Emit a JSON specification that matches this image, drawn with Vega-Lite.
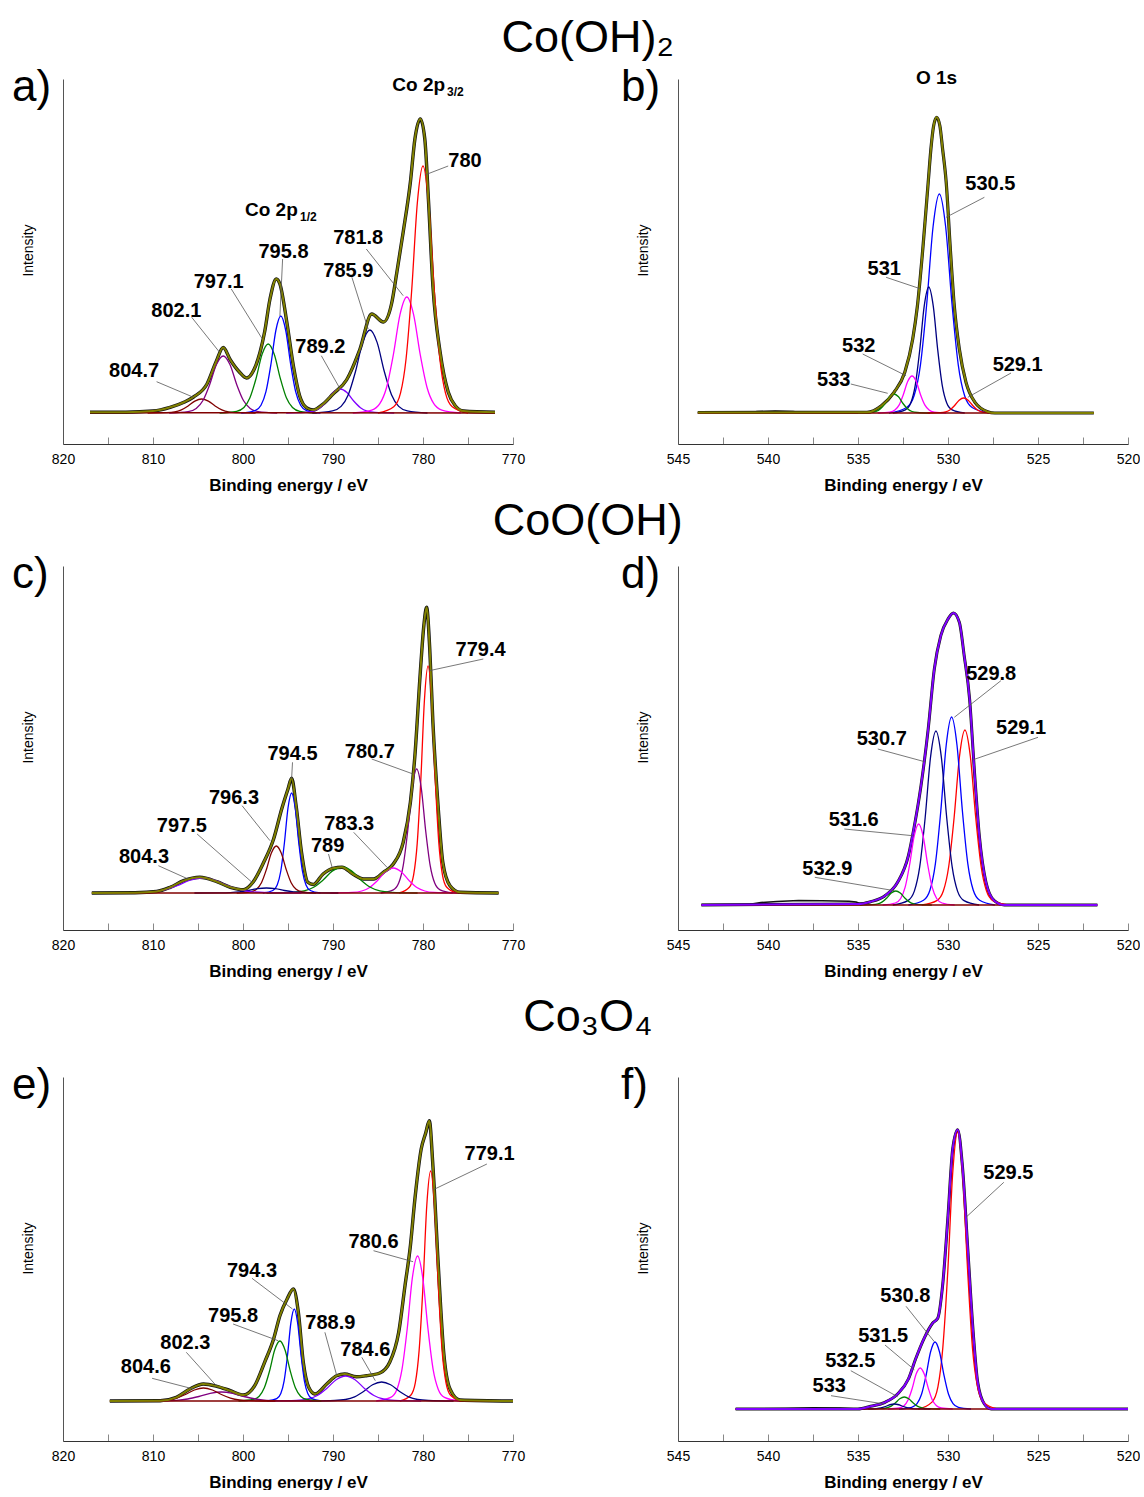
{
"$schema": "https://vega.github.io/schema/vega-lite/v6.json",
"background": "white",
"padding": {"left": 11, "top": 15, "right": 0, "bottom": 0},
"config": {
 "view": {"stroke": null},
 "font": "Liberation Sans",
 "title": {"font": "Liberation Sans", "fontWeight": "normal", "color": "black"},
 "text": {"font": "Liberation Sans", "color": "black"},
 "axisX": {"grid": false, "domainColor": "#333", "tickColor": "#888", "tickSize": -7, "labelFont": "Liberation Sans", "labelFontSize": 14, "labelColor": "black", "labelPadding": 15, "labelExpr": "datum.value % 10 === 0 ? datum.label : ''", "labelFlush": false, "labelOverlap": false, "titleFont": "Liberation Sans", "titleFontSize": 17, "titleFontWeight": "bold", "titleColor": "black", "titlePadding": 11},
 "axisY": {"grid": false, "labels": false, "ticks": false, "domainColor": "#555", "titleFont": "Liberation Sans", "titleFontSize": 14, "titleFontWeight": "normal", "titleColor": "black", "titlePadding": 28, "titleY": 171}
},
"datasets": {
 "a": [
  {"k":"env","x":817,"y":31.7},{"k":"env","x":813,"y":31.8},{"k":"env","x":810,"y":33},{"k":"env","x":808.1,"y":36.7},{"k":"env","x":806.5,"y":42},{"k":"env","x":805.5,"y":47},{"k":"env","x":804,"y":60},{"k":"env","x":803,"y":82},{"k":"env","x":802.2,"y":96.5},{"k":"env","x":801.4,"y":84},{"k":"env","x":800.4,"y":72},{"k":"env","x":799.6,"y":66},{"k":"env","x":798.8,"y":74},{"k":"env","x":798.1,"y":92},{"k":"env","x":797.6,"y":112},{"k":"env","x":797,"y":145},{"k":"env","x":796.3,"y":165},{"k":"env","x":795.9,"y":160},{"k":"env","x":795.1,"y":120},{"k":"env","x":794.4,"y":78},{"k":"env","x":793.7,"y":48},{"k":"env","x":792.9,"y":36},{"k":"env","x":792.2,"y":34},{"k":"env","x":791.1,"y":40},{"k":"env","x":790,"y":50},{"k":"env","x":788.5,"y":64},{"k":"env","x":787,"y":95},{"k":"env","x":785.7,"y":130},{"k":"env","x":784.4,"y":122},{"k":"env","x":783.5,"y":140},{"k":"env","x":782.9,"y":172},{"k":"env","x":782.2,"y":212},{"k":"env","x":781.4,"y":262},{"k":"env","x":780.9,"y":305},{"k":"env","x":780.3,"y":325},{"k":"env","x":779.8,"y":305},{"k":"env","x":779.4,"y":245},{"k":"env","x":778.9,"y":158},{"k":"env","x":778.1,"y":92},{"k":"env","x":777.2,"y":52},{"k":"env","x":776.4,"y":38},{"k":"env","x":775.5,"y":33},{"k":"env","x":772,"y":31.7},
  {"k":"bg","x":817,"y":31.3},{"k":"bg","x":772,"y":31},
  {"k":"804.7","x":798.6,"y":31},{"k":"804.7","x":800.7,"y":31.4},{"k":"804.7","x":801.6,"y":32.1},{"k":"804.7","x":802.35,"y":34.1},{"k":"804.7","x":803.1,"y":38},{"k":"804.7","x":803.85,"y":42.9},{"k":"804.7","x":804.6,"y":45},{"k":"804.7","x":805.35,"y":42.9},{"k":"804.7","x":806.1,"y":38},{"k":"804.7","x":806.85,"y":34.1},{"k":"804.7","x":807.6,"y":32.1},{"k":"804.7","x":808.5,"y":31.4},{"k":"804.7","x":810.6,"y":31},
  {"k":"802.1","x":796.2,"y":31},{"k":"802.1","x":798.3,"y":32.4},{"k":"802.1","x":799.2,"y":35.6},{"k":"802.1","x":799.95,"y":43.5},{"k":"802.1","x":800.7,"y":59.5},{"k":"802.1","x":801.45,"y":79.5},{"k":"802.1","x":802.2,"y":88},{"k":"802.1","x":802.95,"y":79.5},{"k":"802.1","x":803.7,"y":59.5},{"k":"802.1","x":804.45,"y":43.5},{"k":"802.1","x":805.2,"y":35.6},{"k":"802.1","x":806.1,"y":32.4},{"k":"802.1","x":808.2,"y":31},
  {"k":"797.1","x":791.8,"y":31},{"k":"797.1","x":793.69,"y":32.7},{"k":"797.1","x":794.5,"y":36.5},{"k":"797.1","x":795.18,"y":46.2},{"k":"797.1","x":795.85,"y":65.5},{"k":"797.1","x":796.53,"y":89.7},{"k":"797.1","x":797.2,"y":100},{"k":"797.1","x":797.88,"y":89.7},{"k":"797.1","x":798.55,"y":65.5},{"k":"797.1","x":799.23,"y":46.2},{"k":"797.1","x":799.9,"y":36.5},{"k":"797.1","x":800.71,"y":32.7},{"k":"797.1","x":802.6,"y":31},
  {"k":"795.8","x":791.4,"y":31},{"k":"795.8","x":792.94,"y":33.4},{"k":"795.8","x":793.6,"y":38.8},{"k":"795.8","x":794.15,"y":52.3},{"k":"795.8","x":794.7,"y":79.5},{"k":"795.8","x":795.25,"y":113.5},{"k":"795.8","x":795.8,"y":128},{"k":"795.8","x":796.35,"y":113.5},{"k":"795.8","x":796.9,"y":79.5},{"k":"795.8","x":797.45,"y":52.3},{"k":"795.8","x":798,"y":38.8},{"k":"795.8","x":798.66,"y":33.4},{"k":"795.8","x":800.2,"y":31},
  {"k":"789.2","x":783.2,"y":31},{"k":"789.2","x":785.3,"y":31.6},{"k":"789.2","x":786.2,"y":32.9},{"k":"789.2","x":786.95,"y":36.3},{"k":"789.2","x":787.7,"y":43},{"k":"789.2","x":788.45,"y":51.4},{"k":"789.2","x":789.2,"y":55},{"k":"789.2","x":789.95,"y":51.4},{"k":"789.2","x":790.7,"y":43},{"k":"789.2","x":791.45,"y":36.3},{"k":"789.2","x":792.2,"y":32.9},{"k":"789.2","x":793.1,"y":31.6},{"k":"789.2","x":795.2,"y":31},
  {"k":"785.9","x":779.5,"y":31},{"k":"785.9","x":781.74,"y":33.1},{"k":"785.9","x":782.7,"y":37.6},{"k":"785.9","x":783.5,"y":49.3},{"k":"785.9","x":784.3,"y":72.5},{"k":"785.9","x":785.1,"y":101.6},{"k":"785.9","x":785.9,"y":114},{"k":"785.9","x":786.7,"y":101.6},{"k":"785.9","x":787.5,"y":72.5},{"k":"785.9","x":788.3,"y":49.3},{"k":"785.9","x":789.1,"y":37.6},{"k":"785.9","x":790.06,"y":33.1},{"k":"785.9","x":792.3,"y":31},
  {"k":"781.8","x":775.8,"y":31},{"k":"781.8","x":777.9,"y":33.9},{"k":"781.8","x":778.8,"y":40.3},{"k":"781.8","x":779.55,"y":56.5},{"k":"781.8","x":780.3,"y":89},{"k":"781.8","x":781.05,"y":129.6},{"k":"781.8","x":781.8,"y":147},{"k":"781.8","x":782.55,"y":129.6},{"k":"781.8","x":783.3,"y":89},{"k":"781.8","x":784.05,"y":56.5},{"k":"781.8","x":784.8,"y":40.3},{"k":"781.8","x":785.7,"y":33.9},{"k":"781.8","x":787.8,"y":31},
  {"k":"780","x":775,"y":31},{"k":"780","x":776.75,"y":37.2},{"k":"780","x":777.5,"y":50.8},{"k":"780","x":778.13,"y":85.3},{"k":"780","x":778.75,"y":154.5},{"k":"780","x":779.38,"y":241},{"k":"780","x":780,"y":278},{"k":"780","x":780.63,"y":241},{"k":"780","x":781.25,"y":154.5},{"k":"780","x":781.88,"y":85.3},{"k":"780","x":782.5,"y":50.8},{"k":"780","x":783.25,"y":37.2},{"k":"780","x":785,"y":31}
 ],
 "aL": [
  {"x":777.2,"y":278,"x2":779.8,"y2":269},{"x":795.6,"y":185,"x2":795.9,"y2":128},{"x":801.3,"y":155,"x2":797.9,"y2":105.7},{"x":805.7,"y":126.7,"x2":802.6,"y2":91.7},{"x":809.6,"y":62.3,"x2":805.5,"y2":46.7},{"x":791.3,"y":88.3,"x2":789.2,"y2":55},{"x":787.9,"y":166.7,"x2":786.1,"y2":115},{"x":786.3,"y":195,"x2":782.2,"y2":148.3}
 ],
 "aT": [
  {"t":"780","x":775.33,"y":283,"g":"n"},{"t":"795.8","x":795.5,"y":192,"g":"n"},{"t":"797.1","x":802.7,"y":161.7,"g":"n"},{"t":"802.1","x":807.4,"y":133,"g":"n"},{"t":"804.7","x":812.1,"y":73.3,"g":"n"},{"t":"789.2","x":791.4,"y":96.7,"g":"n"},{"t":"785.9","x":788.3,"y":173.3,"g":"n"},{"t":"781.8","x":787.2,"y":205.7,"g":"n"},
  {"t":"Co 2p","x":783.41,"y":353.3,"g":"h"},{"t":"3/2","x":777.33,"y":348.3,"g":"s"},{"t":"Co 2p","x":799.78,"y":228.3,"g":"h"},{"t":"1/2","x":793.67,"y":223.3,"g":"s"},
  {"t":"a)","x":825.67,"y":343,"g":"L"}
 ],
 "b": [
  {"k":"raw","x":543.9,"y":31.5},{"k":"raw","x":541,"y":31.5},{"k":"raw","x":540.6,"y":32.5},{"k":"raw","x":539.6,"y":33},{"k":"raw","x":538.6,"y":32.6},{"k":"raw","x":538.2,"y":31.6},{"k":"raw","x":534.5,"y":31.7},
  {"k":"env","x":543.9,"y":31.5},{"k":"env","x":534.5,"y":31.7},{"k":"env","x":533.7,"y":38.3},{"k":"env","x":533,"y":51.7},{"k":"env","x":532.4,"y":71.7},{"k":"env","x":531.96,"y":105},{"k":"env","x":531.7,"y":138},{"k":"env","x":531.4,"y":195},{"k":"env","x":531.1,"y":261.7},{"k":"env","x":530.95,"y":295},{"k":"env","x":530.8,"y":318},{"k":"env","x":530.63,"y":326.7},{"k":"env","x":530.45,"y":318},{"k":"env","x":530.3,"y":295},{"k":"env","x":530.1,"y":261.7},{"k":"env","x":529.87,"y":195},{"k":"env","x":529.65,"y":138},{"k":"env","x":529.37,"y":95},{"k":"env","x":529,"y":61.7},{"k":"env","x":528.5,"y":41.7},{"k":"env","x":527.8,"y":32.3},{"k":"env","x":527.4,"y":31},{"k":"env","x":521.9,"y":31},
  {"k":"bg","x":543.9,"y":31},{"k":"bg","x":521.9,"y":31},
  {"k":"530.5","x":527.68,"y":31},{"k":"530.5","x":528.66,"y":36.5},{"k":"530.5","x":529.08,"y":48.5},{"k":"530.5","x":529.43,"y":79.2},{"k":"530.5","x":529.78,"y":140.5},{"k":"530.5","x":530.13,"y":217.2},{"k":"530.5","x":530.48,"y":250},{"k":"530.5","x":530.83,"y":217.2},{"k":"530.5","x":531.18,"y":140.5},{"k":"530.5","x":531.53,"y":79.2},{"k":"530.5","x":531.88,"y":48.5},{"k":"530.5","x":532.3,"y":36.5},{"k":"530.5","x":533.28,"y":31},
  {"k":"531","x":529.07,"y":31},{"k":"531","x":529.77,"y":34.2},{"k":"531","x":530.07,"y":41.1},{"k":"531","x":530.32,"y":58.7},{"k":"531","x":530.57,"y":94},{"k":"531","x":530.82,"y":138.1},{"k":"531","x":531.07,"y":157},{"k":"531","x":531.32,"y":138.1},{"k":"531","x":531.57,"y":94},{"k":"531","x":531.82,"y":58.7},{"k":"531","x":532.07,"y":41.1},{"k":"531","x":532.37,"y":34.2},{"k":"531","x":533.07,"y":31},
  {"k":"532","x":530.1,"y":31},{"k":"532","x":530.77,"y":31.9},{"k":"532","x":531.05,"y":34},{"k":"532","x":531.29,"y":39.1},{"k":"532","x":531.53,"y":49.5},{"k":"532","x":531.76,"y":62.5},{"k":"532","x":532,"y":68},{"k":"532","x":532.24,"y":62.5},{"k":"532","x":532.48,"y":49.5},{"k":"532","x":532.71,"y":39.1},{"k":"532","x":532.95,"y":34},{"k":"532","x":533.24,"y":31.9},{"k":"532","x":533.9,"y":31},
  {"k":"533","x":531,"y":31},{"k":"533","x":531.7,"y":31.5},{"k":"533","x":532,"y":32.5},{"k":"533","x":532.25,"y":35.2},{"k":"533","x":532.5,"y":40.5},{"k":"533","x":532.75,"y":47.2},{"k":"533","x":533,"y":50},{"k":"533","x":533.25,"y":47.2},{"k":"533","x":533.5,"y":40.5},{"k":"533","x":533.75,"y":35.2},{"k":"533","x":534,"y":32.5},{"k":"533","x":534.3,"y":31.5},{"k":"533","x":535,"y":31},
  {"k":"529.1","x":527.13,"y":31},{"k":"529.1","x":527.83,"y":31.4},{"k":"529.1","x":528.13,"y":32.2},{"k":"529.1","x":528.38,"y":34.3},{"k":"529.1","x":528.63,"y":38.5},{"k":"529.1","x":528.88,"y":43.8},{"k":"529.1","x":529.13,"y":46},{"k":"529.1","x":529.38,"y":43.8},{"k":"529.1","x":529.63,"y":38.5},{"k":"529.1","x":529.88,"y":34.3},{"k":"529.1","x":530.13,"y":32.2},{"k":"529.1","x":530.43,"y":31.4},{"k":"529.1","x":531.13,"y":31}
 ],
 "bL": [
  {"x":527.98,"y":246.7,"x2":530.11,"y2":226.7},{"x":533.44,"y":166.7,"x2":531.5,"y2":155},{"x":534.74,"y":90,"x2":532.33,"y2":68.3},{"x":535.4,"y":60,"x2":533.35,"y2":50.7},{"x":526.5,"y":71,"x2":528.9,"y2":46.7}
 ],
 "bT": [
  {"t":"530.5","x":527.65,"y":260,"g":"n"},{"t":"531","x":533.54,"y":175,"g":"n"},{"t":"532","x":534.96,"y":98.3,"g":"n"},{"t":"533","x":536.35,"y":64,"g":"n"},{"t":"529.1","x":526.13,"y":79.3,"g":"n"},
  {"t":"O 1s","x":531.78,"y":360.5,"g":"h"},
  {"t":"b)","x":548.17,"y":343,"g":"L"}
 ],
 "c": [
  {"k":"env","x":816.8,"y":37},{"k":"env","x":812,"y":37.3},{"k":"env","x":809.6,"y":38.5},{"k":"env","x":808.1,"y":42.7},{"k":"env","x":806.6,"y":49.3},{"k":"env","x":804.8,"y":52.7},{"k":"env","x":802.9,"y":48.3},{"k":"env","x":801.4,"y":42.7},{"k":"env","x":799.96,"y":40.3},{"k":"env","x":798.9,"y":47.7},{"k":"env","x":797.7,"y":67.7},{"k":"env","x":796.6,"y":91},{"k":"env","x":795.7,"y":121},{"k":"env","x":795,"y":141},{"k":"env","x":794.6,"y":151.7},{"k":"env","x":794.1,"y":124.3},{"k":"env","x":793.5,"y":77.7},{"k":"env","x":792.8,"y":47.7},{"k":"env","x":792.2,"y":45.5},{"k":"env","x":791.1,"y":56},{"k":"env","x":790,"y":61.7},{"k":"env","x":789,"y":62.7},{"k":"env","x":787.8,"y":56},{"k":"env","x":786.6,"y":51},{"k":"env","x":785.5,"y":51},{"k":"env","x":784.4,"y":57.7},{"k":"env","x":783.3,"y":66},{"k":"env","x":782.2,"y":87.7},{"k":"env","x":781.4,"y":127.7},{"k":"env","x":780.9,"y":174.3},{"k":"env","x":780.3,"y":257.7},{"k":"env","x":779.9,"y":305},{"k":"env","x":779.6,"y":322.7},{"k":"env","x":779.25,"y":281},{"k":"env","x":778.9,"y":207.7},{"k":"env","x":778.3,"y":121},{"k":"env","x":777.8,"y":67.7},{"k":"env","x":777,"y":44.3},{"k":"env","x":775.9,"y":37.7},{"k":"env","x":771.6,"y":37},
  {"k":"bg","x":816.8,"y":37},{"k":"bg","x":771.6,"y":37},
  {"k":"779.4","x":776.24,"y":37},{"k":"779.4","x":777.36,"y":42.7},{"k":"779.4","x":777.84,"y":55.2},{"k":"779.4","x":778.24,"y":86.9},{"k":"779.4","x":778.64,"y":150.5},{"k":"779.4","x":779.04,"y":230},{"k":"779.4","x":779.44,"y":264},{"k":"779.4","x":779.84,"y":230},{"k":"779.4","x":780.24,"y":150.5},{"k":"779.4","x":780.64,"y":86.9},{"k":"779.4","x":781.04,"y":55.2},{"k":"779.4","x":781.52,"y":42.7},{"k":"779.4","x":782.64,"y":37},
  {"k":"780.7","x":776.7,"y":37},{"k":"780.7","x":778.1,"y":40.1},{"k":"780.7","x":778.7,"y":46.9},{"k":"780.7","x":779.2,"y":64.3},{"k":"780.7","x":779.7,"y":99},{"k":"780.7","x":780.2,"y":142.4},{"k":"780.7","x":780.7,"y":161},{"k":"780.7","x":781.2,"y":142.4},{"k":"780.7","x":781.7,"y":99},{"k":"780.7","x":782.2,"y":64.3},{"k":"780.7","x":782.7,"y":46.9},{"k":"780.7","x":783.3,"y":40.1},{"k":"780.7","x":784.7,"y":37},
  {"k":"783.3","x":776.3,"y":37},{"k":"783.3","x":778.75,"y":37.6},{"k":"783.3","x":779.8,"y":39},{"k":"783.3","x":780.68,"y":42.5},{"k":"783.3","x":781.55,"y":49.5},{"k":"783.3","x":782.43,"y":58.3},{"k":"783.3","x":783.3,"y":62},{"k":"783.3","x":784.18,"y":58.3},{"k":"783.3","x":785.05,"y":49.5},{"k":"783.3","x":785.93,"y":42.5},{"k":"783.3","x":786.8,"y":39},{"k":"783.3","x":787.85,"y":37.6},{"k":"783.3","x":790.3,"y":37},
  {"k":"789","x":780.6,"y":37},{"k":"789","x":783.54,"y":37.7},{"k":"789","x":784.8,"y":39.1},{"k":"789","x":785.85,"y":42.7},{"k":"789","x":786.9,"y":50},{"k":"789","x":787.95,"y":59.1},{"k":"789","x":789,"y":63},{"k":"789","x":790.05,"y":59.1},{"k":"789","x":791.1,"y":50},{"k":"789","x":792.15,"y":42.7},{"k":"789","x":793.2,"y":39.1},{"k":"789","x":794.46,"y":37.7},{"k":"789","x":797.4,"y":37},
  {"k":"794.5","x":791.4,"y":37},{"k":"794.5","x":792.52,"y":39.5},{"k":"794.5","x":793,"y":45},{"k":"794.5","x":793.4,"y":59},{"k":"794.5","x":793.8,"y":87},{"k":"794.5","x":794.2,"y":122},{"k":"794.5","x":794.6,"y":137},{"k":"794.5","x":795,"y":122},{"k":"794.5","x":795.4,"y":87},{"k":"794.5","x":795.8,"y":59},{"k":"794.5","x":796.2,"y":45},{"k":"794.5","x":796.68,"y":39.5},{"k":"794.5","x":797.8,"y":37},
  {"k":"796.3","x":791.9,"y":37},{"k":"796.3","x":793.44,"y":38.2},{"k":"796.3","x":794.1,"y":40.8},{"k":"796.3","x":794.65,"y":47.3},{"k":"796.3","x":795.2,"y":60.5},{"k":"796.3","x":795.75,"y":77},{"k":"796.3","x":796.3,"y":84},{"k":"796.3","x":796.85,"y":77},{"k":"796.3","x":797.4,"y":60.5},{"k":"796.3","x":797.95,"y":47.3},{"k":"796.3","x":798.5,"y":40.8},{"k":"796.3","x":799.16,"y":38.2},{"k":"796.3","x":800.7,"y":37},
  {"k":"797.5","x":789.4,"y":37},{"k":"797.5","x":792.2,"y":37.1},{"k":"797.5","x":793.4,"y":37.4},{"k":"797.5","x":794.4,"y":38.1},{"k":"797.5","x":795.4,"y":39.5},{"k":"797.5","x":796.4,"y":41.3},{"k":"797.5","x":797.4,"y":42},{"k":"797.5","x":798.4,"y":41.3},{"k":"797.5","x":799.4,"y":39.5},{"k":"797.5","x":800.4,"y":38.1},{"k":"797.5","x":801.4,"y":37.4},{"k":"797.5","x":802.6,"y":37.1},{"k":"797.5","x":805.4,"y":37},
  {"k":"804.3","x":793.5,"y":37},{"k":"804.3","x":797.35,"y":37.4},{"k":"804.3","x":799,"y":38.2},{"k":"804.3","x":800.38,"y":40.3},{"k":"804.3","x":801.75,"y":44.5},{"k":"804.3","x":803.13,"y":49.75},{"k":"804.3","x":804.5,"y":52},{"k":"804.3","x":805.88,"y":49.75},{"k":"804.3","x":807.25,"y":44.5},{"k":"804.3","x":808.63,"y":40.3},{"k":"804.3","x":810,"y":38.2},{"k":"804.3","x":811.65,"y":37.4},{"k":"804.3","x":815.5,"y":37}
 ],
 "cL": [
  {"x":773.3,"y":271,"x2":779.3,"y2":259.3},{"x":785.7,"y":171,"x2":781.1,"y2":156},{"x":794.5,"y":167.7,"x2":794.6,"y2":151},{"x":800.1,"y":124.3,"x2":797,"y2":89.3},{"x":805.1,"y":96,"x2":799,"y2":47.7},{"x":809.4,"y":64.3,"x2":806.1,"y2":51},{"x":790.5,"y":76,"x2":790.1,"y2":62.7},{"x":787.7,"y":97.7,"x2":784,"y2":62.7}
 ],
 "cT": [
  {"t":"779.4","x":773.6,"y":280.3,"g":"n"},{"t":"780.7","x":785.9,"y":177.7,"g":"n"},{"t":"794.5","x":794.5,"y":176,"g":"n"},{"t":"796.3","x":801,"y":132,"g":"n"},{"t":"797.5","x":806.8,"y":103.7,"g":"n"},{"t":"804.3","x":811,"y":72.7,"g":"n"},{"t":"789","x":790.6,"y":83.7,"g":"n"},{"t":"783.3","x":788.2,"y":106,"g":"n"},
  {"t":"c)","x":825.67,"y":342,"g":"L"}
 ],
 "d": [
  {"k":"raw","x":543.7,"y":25.5},{"k":"raw","x":541,"y":25.8},{"k":"raw","x":540.4,"y":27.5},{"k":"raw","x":539.5,"y":28.5},{"k":"raw","x":538.3,"y":29.5},{"k":"raw","x":537,"y":29.2},{"k":"raw","x":535.5,"y":28.8},{"k":"raw","x":535.1,"y":28},{"k":"raw","x":534.9,"y":26.5},{"k":"raw","x":534.3,"y":28.3},
  {"k":"env","x":543.7,"y":25},{"k":"env","x":535,"y":26},{"k":"env","x":534.3,"y":28.3},{"k":"env","x":533.5,"y":34.3},{"k":"env","x":532.8,"y":47.7},{"k":"env","x":532.2,"y":74.3},{"k":"env","x":531.9,"y":101},{"k":"env","x":531.5,"y":144.3},{"k":"env","x":531.1,"y":201},{"k":"env","x":530.76,"y":261},{"k":"env","x":530.4,"y":294.3},{"k":"env","x":530,"y":311},{"k":"env","x":529.7,"y":317},{"k":"env","x":529.37,"y":307.7},{"k":"env","x":529.1,"y":274.3},{"k":"env","x":528.8,"y":231},{"k":"env","x":528.54,"y":161},{"k":"env","x":528.26,"y":94.3},{"k":"env","x":527.89,"y":47.7},{"k":"env","x":527.43,"y":29.3},{"k":"env","x":526.87,"y":25},{"k":"env","x":521.7,"y":25},
  {"k":"bg","x":543.7,"y":25},{"k":"bg","x":521.7,"y":25},
  {"k":"529.1","x":526.66,"y":25},{"k":"529.1","x":527.5,"y":29.4},{"k":"529.1","x":527.86,"y":39},{"k":"529.1","x":528.16,"y":63.5},{"k":"529.1","x":528.46,"y":112.5},{"k":"529.1","x":528.76,"y":173.8},{"k":"529.1","x":529.06,"y":200},{"k":"529.1","x":529.36,"y":173.8},{"k":"529.1","x":529.66,"y":112.5},{"k":"529.1","x":529.96,"y":63.5},{"k":"529.1","x":530.26,"y":39},{"k":"529.1","x":530.62,"y":29.4},{"k":"529.1","x":531.46,"y":25},
  {"k":"529.8","x":527.4,"y":25},{"k":"529.8","x":528.24,"y":29.7},{"k":"529.8","x":528.6,"y":40},{"k":"529.8","x":528.9,"y":66.4},{"k":"529.8","x":529.2,"y":119},{"k":"529.8","x":529.5,"y":184.8},{"k":"529.8","x":529.8,"y":213},{"k":"529.8","x":530.1,"y":184.8},{"k":"529.8","x":530.4,"y":119},{"k":"529.8","x":530.7,"y":66.4},{"k":"529.8","x":531,"y":40},{"k":"529.8","x":531.36,"y":29.7},{"k":"529.8","x":532.2,"y":25},
  {"k":"530.7","x":528.27,"y":25},{"k":"530.7","x":529.11,"y":29.4},{"k":"530.7","x":529.47,"y":38.9},{"k":"530.7","x":529.77,"y":63.3},{"k":"530.7","x":530.07,"y":112},{"k":"530.7","x":530.37,"y":172.9},{"k":"530.7","x":530.67,"y":199},{"k":"530.7","x":530.97,"y":172.9},{"k":"530.7","x":531.27,"y":112},{"k":"530.7","x":531.57,"y":63.3},{"k":"530.7","x":531.87,"y":38.9},{"k":"530.7","x":532.23,"y":29.4},{"k":"530.7","x":533.07,"y":25},
  {"k":"531.6","x":529.63,"y":25},{"k":"531.6","x":530.33,"y":27},{"k":"531.6","x":530.63,"y":31.5},{"k":"531.6","x":530.88,"y":42.8},{"k":"531.6","x":531.13,"y":65.5},{"k":"531.6","x":531.38,"y":93.9},{"k":"531.6","x":531.63,"y":106},{"k":"531.6","x":531.88,"y":93.9},{"k":"531.6","x":532.13,"y":65.5},{"k":"531.6","x":532.38,"y":42.8},{"k":"531.6","x":532.63,"y":31.5},{"k":"531.6","x":532.93,"y":27},{"k":"531.6","x":533.63,"y":25},
  {"k":"532.9","x":530.9,"y":25},{"k":"532.9","x":531.6,"y":25.4},{"k":"532.9","x":531.9,"y":26.1},{"k":"532.9","x":532.15,"y":28.1},{"k":"532.9","x":532.4,"y":32},{"k":"532.9","x":532.65,"y":36.9},{"k":"532.9","x":532.9,"y":39},{"k":"532.9","x":533.15,"y":36.9},{"k":"532.9","x":533.4,"y":32},{"k":"532.9","x":533.65,"y":28.1},{"k":"532.9","x":533.9,"y":26.1},{"k":"532.9","x":534.2,"y":25.4},{"k":"532.9","x":534.9,"y":25}
 ],
 "dL": [
  {"x":527.06,"y":249.3,"x2":529.65,"y2":212.7},{"x":525,"y":192.7,"x2":528.6,"y2":170.3},{"x":533.9,"y":181,"x2":531.3,"y2":168.3},{"x":535.76,"y":101,"x2":531.96,"y2":94.3},{"x":537.4,"y":52.7,"x2":532.98,"y2":39.3}
 ],
 "dT": [
  {"t":"529.8","x":527.6,"y":256,"g":"n"},{"t":"529.1","x":525.94,"y":201.7,"g":"n"},{"t":"530.7","x":533.68,"y":191,"g":"n"},{"t":"531.6","x":535.24,"y":110.3,"g":"n"},{"t":"532.9","x":536.7,"y":61,"g":"n"},
  {"t":"d)","x":548.17,"y":342,"g":"L"}
 ],
 "e": [
  {"k":"env","x":814.8,"y":40},{"k":"env","x":809.2,"y":40.3},{"k":"env","x":807.4,"y":43.7},{"k":"env","x":805.9,"y":52},{"k":"env","x":804.4,"y":57},{"k":"env","x":802.9,"y":54.7},{"k":"env","x":801.4,"y":50.3},{"k":"env","x":799.96,"y":46},{"k":"env","x":798.7,"y":55.3},{"k":"env","x":797.6,"y":78.7},{"k":"env","x":796.6,"y":102},{"k":"env","x":795.9,"y":125.3},{"k":"env","x":795.1,"y":142},{"k":"env","x":794.4,"y":152},{"k":"env","x":793.85,"y":128.7},{"k":"env","x":793.3,"y":78.7},{"k":"env","x":792.7,"y":53.7},{"k":"env","x":792,"y":47},{"k":"env","x":790.7,"y":57},{"k":"env","x":789.6,"y":65.3},{"k":"env","x":788.7,"y":67},{"k":"env","x":787.4,"y":64.3},{"k":"env","x":786.3,"y":65.3},{"k":"env","x":784.8,"y":68},{"k":"env","x":783.7,"y":78.7},{"k":"env","x":782.7,"y":108.7},{"k":"env","x":782,"y":155.3},{"k":"env","x":781.4,"y":195.3},{"k":"env","x":780.9,"y":242},{"k":"env","x":780.2,"y":292},{"k":"env","x":779.7,"y":308},{"k":"env","x":779.3,"y":320.3},{"k":"env","x":778.9,"y":275.3},{"k":"env","x":778.3,"y":175.3},{"k":"env","x":777.7,"y":88.7},{"k":"env","x":777,"y":52},{"k":"env","x":775.9,"y":41},{"k":"env","x":770,"y":40},
  {"k":"bg","x":814.8,"y":40},{"k":"bg","x":770,"y":40},
  {"k":"779.1","x":775.75,"y":40},{"k":"779.1","x":776.94,"y":45.8},{"k":"779.1","x":777.45,"y":58.4},{"k":"779.1","x":777.88,"y":90.6},{"k":"779.1","x":778.3,"y":155},{"k":"779.1","x":778.73,"y":235.5},{"k":"779.1","x":779.15,"y":270},{"k":"779.1","x":779.58,"y":235.5},{"k":"779.1","x":780,"y":155},{"k":"779.1","x":780.43,"y":90.6},{"k":"779.1","x":780.85,"y":58.4},{"k":"779.1","x":781.36,"y":45.8},{"k":"779.1","x":782.55,"y":40},
  {"k":"780.6","x":776,"y":40},{"k":"780.6","x":777.61,"y":43.6},{"k":"780.6","x":778.3,"y":51.6},{"k":"780.6","x":778.88,"y":71.9},{"k":"780.6","x":779.45,"y":112.5},{"k":"780.6","x":780.03,"y":163.3},{"k":"780.6","x":780.6,"y":185},{"k":"780.6","x":781.18,"y":163.3},{"k":"780.6","x":781.75,"y":112.5},{"k":"780.6","x":782.33,"y":71.9},{"k":"780.6","x":782.9,"y":51.6},{"k":"780.6","x":783.59,"y":43.6},{"k":"780.6","x":785.2,"y":40},
  {"k":"784.6","x":776.6,"y":40},{"k":"784.6","x":779.4,"y":40.5},{"k":"784.6","x":780.6,"y":41.5},{"k":"784.6","x":781.6,"y":44.2},{"k":"784.6","x":782.6,"y":49.5},{"k":"784.6","x":783.6,"y":56.2},{"k":"784.6","x":784.6,"y":59},{"k":"784.6","x":785.6,"y":56.2},{"k":"784.6","x":786.6,"y":49.5},{"k":"784.6","x":787.6,"y":44.2},{"k":"784.6","x":788.6,"y":41.5},{"k":"784.6","x":789.8,"y":40.5},{"k":"784.6","x":792.6,"y":40},
  {"k":"788.9","x":780.2,"y":40},{"k":"788.9","x":783.14,"y":40.6},{"k":"788.9","x":784.4,"y":42},{"k":"788.9","x":785.45,"y":45.5},{"k":"788.9","x":786.5,"y":52.5},{"k":"788.9","x":787.55,"y":61.3},{"k":"788.9","x":788.6,"y":65},{"k":"788.9","x":789.65,"y":61.3},{"k":"788.9","x":790.7,"y":52.5},{"k":"788.9","x":791.75,"y":45.5},{"k":"788.9","x":792.8,"y":42},{"k":"788.9","x":794.06,"y":40.6},{"k":"788.9","x":797,"y":40},
  {"k":"794.3","x":791.3,"y":40},{"k":"794.3","x":792.35,"y":42.3},{"k":"794.3","x":792.8,"y":47.4},{"k":"794.3","x":793.18,"y":60.2},{"k":"794.3","x":793.55,"y":86},{"k":"794.3","x":793.93,"y":118.2},{"k":"794.3","x":794.3,"y":132},{"k":"794.3","x":794.68,"y":118.2},{"k":"794.3","x":795.05,"y":86},{"k":"794.3","x":795.43,"y":60.2},{"k":"794.3","x":795.8,"y":47.4},{"k":"794.3","x":796.25,"y":42.3},{"k":"794.3","x":797.3,"y":40},
  {"k":"795.8","x":791.3,"y":40},{"k":"795.8","x":792.91,"y":41.5},{"k":"795.8","x":793.6,"y":44.8},{"k":"795.8","x":794.18,"y":53.2},{"k":"795.8","x":794.75,"y":70},{"k":"795.8","x":795.33,"y":91},{"k":"795.8","x":795.9,"y":100},{"k":"795.8","x":796.48,"y":91},{"k":"795.8","x":797.05,"y":70},{"k":"795.8","x":797.63,"y":53.2},{"k":"795.8","x":798.2,"y":44.8},{"k":"795.8","x":798.89,"y":41.5},{"k":"795.8","x":800.5,"y":40},
  {"k":"802.3","x":792.4,"y":40},{"k":"802.3","x":795.9,"y":40.2},{"k":"802.3","x":797.4,"y":40.7},{"k":"802.3","x":798.65,"y":42},{"k":"802.3","x":799.9,"y":44.5},{"k":"802.3","x":801.15,"y":47.65},{"k":"802.3","x":802.4,"y":49},{"k":"802.3","x":803.65,"y":47.65},{"k":"802.3","x":804.9,"y":44.5},{"k":"802.3","x":806.15,"y":42},{"k":"802.3","x":807.4,"y":40.7},{"k":"802.3","x":808.9,"y":40.2},{"k":"802.3","x":812.4,"y":40},
  {"k":"804.6","x":796.4,"y":40},{"k":"804.6","x":799.2,"y":40.3},{"k":"804.6","x":800.4,"y":41},{"k":"804.6","x":801.4,"y":42.9},{"k":"804.6","x":802.4,"y":46.5},{"k":"804.6","x":803.4,"y":51},{"k":"804.6","x":804.4,"y":53},{"k":"804.6","x":805.4,"y":51},{"k":"804.6","x":806.4,"y":46.5},{"k":"804.6","x":807.4,"y":42.9},{"k":"804.6","x":808.4,"y":41},{"k":"804.6","x":809.6,"y":40.3},{"k":"804.6","x":812.4,"y":40}
 ],
 "eL": [
  {"x":772.9,"y":277,"x2":778.85,"y2":251.3},{"x":785.5,"y":190.3,"x2":781.1,"y2":179.3},{"x":799,"y":162.7,"x2":794.5,"y2":132},{"x":801.1,"y":117,"x2":796.1,"y2":100.3},{"x":806.3,"y":88.7,"x2":802.9,"y2":54.7},{"x":810.1,"y":62.7,"x2":805.5,"y2":52},{"x":790.9,"y":108.7,"x2":789.6,"y2":66},{"x":786.8,"y":83.7,"x2":785.3,"y2":60.3}
 ],
 "eT": [
  {"t":"779.1","x":772.6,"y":287,"g":"n"},{"t":"780.6","x":785.5,"y":198.7,"g":"n"},{"t":"794.3","x":799,"y":170.3,"g":"n"},{"t":"795.8","x":801.1,"y":125.3,"g":"n"},{"t":"802.3","x":806.4,"y":97.7,"g":"n"},{"t":"804.6","x":810.8,"y":73.7,"g":"n"},{"t":"788.9","x":790.3,"y":118,"g":"n"},{"t":"784.6","x":786.4,"y":91.3,"g":"n"},
  {"t":"e)","x":825.67,"y":342,"g":"L"}
 ],
 "f": [
  {"k":"raw","x":541.8,"y":32},{"k":"raw","x":539,"y":32.5},{"k":"raw","x":537.5,"y":33.3},{"k":"raw","x":536,"y":33},{"k":"raw","x":535,"y":32},
  {"k":"env","x":541.8,"y":32},{"k":"env","x":535,"y":32},{"k":"env","x":534.3,"y":34.7},{"k":"env","x":533.5,"y":38.7},{"k":"env","x":532.8,"y":47},{"k":"env","x":532.2,"y":62},{"k":"env","x":531.8,"y":82},{"k":"env","x":531.3,"y":103.7},{"k":"env","x":530.85,"y":118},{"k":"env","x":530.57,"y":122.7},{"k":"env","x":530.3,"y":155.3},{"k":"env","x":530,"y":225.3},{"k":"env","x":529.74,"y":292},{"k":"env","x":529.46,"y":311.3},{"k":"env","x":529.2,"y":275.3},{"k":"env","x":528.9,"y":192},{"k":"env","x":528.6,"y":108.7},{"k":"env","x":528.35,"y":58.7},{"k":"env","x":527.98,"y":37},{"k":"env","x":527.6,"y":32},{"k":"env","x":520,"y":32},
  {"k":"bg","x":541.8,"y":32},{"k":"bg","x":520,"y":32},
  {"k":"529.5","x":527.26,"y":32},{"k":"529.5","x":528.03,"y":38.9},{"k":"529.5","x":528.36,"y":54.2},{"k":"529.5","x":528.64,"y":92.9},{"k":"529.5","x":528.91,"y":170.5},{"k":"529.5","x":529.19,"y":267.5},{"k":"529.5","x":529.46,"y":309},{"k":"529.5","x":529.74,"y":267.5},{"k":"529.5","x":530.01,"y":170.5},{"k":"529.5","x":530.29,"y":92.9},{"k":"529.5","x":530.56,"y":54.2},{"k":"529.5","x":530.89,"y":38.9},{"k":"529.5","x":531.66,"y":32},
  {"k":"530.8","x":528.72,"y":32},{"k":"530.8","x":529.42,"y":33.7},{"k":"530.8","x":529.72,"y":37.4},{"k":"530.8","x":529.97,"y":46.7},{"k":"530.8","x":530.22,"y":65.5},{"k":"530.8","x":530.47,"y":89},{"k":"530.8","x":530.72,"y":99},{"k":"530.8","x":530.97,"y":89},{"k":"530.8","x":531.22,"y":65.5},{"k":"530.8","x":531.47,"y":46.7},{"k":"530.8","x":531.72,"y":37.4},{"k":"530.8","x":532.02,"y":33.7},{"k":"530.8","x":532.72,"y":32},
  {"k":"531.5","x":529.74,"y":32},{"k":"531.5","x":530.37,"y":33},{"k":"531.5","x":530.64,"y":35.3},{"k":"531.5","x":530.87,"y":41},{"k":"531.5","x":531.09,"y":52.5},{"k":"531.5","x":531.32,"y":66.9},{"k":"531.5","x":531.54,"y":73},{"k":"531.5","x":531.77,"y":66.9},{"k":"531.5","x":531.99,"y":52.5},{"k":"531.5","x":532.22,"y":41},{"k":"531.5","x":532.44,"y":35.3},{"k":"531.5","x":532.71,"y":33},{"k":"531.5","x":533.34,"y":32},
  {"k":"532.5","x":530.43,"y":32},{"k":"532.5","x":531.13,"y":32.3},{"k":"532.5","x":531.43,"y":33},{"k":"532.5","x":531.68,"y":34.6},{"k":"532.5","x":531.93,"y":38},{"k":"532.5","x":532.18,"y":42.2},{"k":"532.5","x":532.43,"y":44},{"k":"532.5","x":532.68,"y":42.2},{"k":"532.5","x":532.93,"y":38},{"k":"532.5","x":533.18,"y":34.6},{"k":"532.5","x":533.43,"y":33},{"k":"532.5","x":533.73,"y":32.3},{"k":"532.5","x":534.43,"y":32},
  {"k":"533","x":530.98,"y":32},{"k":"533","x":531.68,"y":32.1},{"k":"533","x":531.98,"y":32.4},{"k":"533","x":532.23,"y":33.1},{"k":"533","x":532.48,"y":34.5},{"k":"533","x":532.73,"y":36.25},{"k":"533","x":532.98,"y":37},{"k":"533","x":533.23,"y":36.25},{"k":"533","x":533.48,"y":34.5},{"k":"533","x":533.73,"y":33.1},{"k":"533","x":533.98,"y":32.4},{"k":"533","x":534.28,"y":32.1},{"k":"533","x":534.98,"y":32}
 ],
 "fL": [
  {"x":526.9,"y":258.7,"x2":529,"y2":223.7},{"x":532.33,"y":134.7,"x2":530.76,"y2":99.3},{"x":533.5,"y":96,"x2":531.87,"y2":71.3},{"x":535.4,"y":70.3,"x2":532.8,"y2":44.3},{"x":536.5,"y":45.3,"x2":533.54,"y2":37}
 ],
 "fT": [
  {"t":"529.5","x":526.65,"y":268,"g":"n"},{"t":"530.8","x":532.37,"y":144.7,"g":"n"},{"t":"531.5","x":533.6,"y":105.3,"g":"n"},{"t":"532.5","x":535.43,"y":80.3,"g":"n"},{"t":"533","x":536.6,"y":55.3,"g":"n"},
  {"t":"f)","x":548.17,"y":342,"g":"L"}
 ]
},
"spacing": 6,
"resolve": {"scale": {"color": "independent"}},
"vconcat": [
 {"title": {"text": "Co(OH)₂", "fontSize": 45, "anchor": "middle", "dx": 12, "offset": -31, "baseline": "alphabetic"},
  "spacing": 95, "resolve": {"scale": {"color": "independent"}},
  "hconcat": [
   {"width": 450, "height": 365,
    "data": {"name": "a"},
    "encoding": {
     "x": {"field": "x", "type": "quantitative", "scale": {"domain": [770, 820], "reverse": true, "nice": false, "zero": false}, "axis": {"title": "Binding energy / eV", "values": [770,775,780,785,790,795,800,805,810,815,820]}},
     "y": {"field": "y", "type": "quantitative", "scale": {"domain": [0, 365], "nice": false, "zero": false}, "axis": {"title": "Intensity"}}
    },
    "layer": [
     {"transform": [{"filter": "datum.k === 'env'"}], "mark": {"type": "line", "color": "#111", "strokeWidth": 3.4, "interpolate": "monotone"}},
     {"transform": [{"filter": "datum.k !== 'env' && datum.k !== 'bg' && datum.k !== 'raw'"}], "mark": {"type": "line", "strokeWidth": 1.3, "interpolate": "monotone"},
      "encoding": {"color": {"field": "k", "type": "nominal", "legend": null, "scale": {"domain": ["804.7","802.1","797.1","795.8","789.2","785.9","781.8","780"], "range": ["#800000","#800080","#008000","#0000FF","#8000FF","#000080","#FF00FF","#FF0000"]}}}},
     {"transform": [{"filter": "datum.k === 'bg'"}], "mark": {"type": "line", "color": "#800000", "strokeWidth": 1.5}},
     {"transform": [{"filter": "datum.k === 'env'"}], "mark": {"type": "line", "color": "#808000", "strokeWidth": 2, "interpolate": "monotone"}},
     {"data": {"name": "aL"}, "mark": {"type": "rule", "color": "#555", "strokeWidth": 0.8}, "encoding": {"x2": {"field": "x2"}, "y2": {"field": "y2"}}},
     {"data": {"name": "aT"}, "transform": [{"filter": "datum.g === 'n'"}], "mark": {"type": "text", "fontSize": 20, "fontWeight": "bold", "align": "center", "baseline": "middle"}, "encoding": {"text": {"field": "t"}}},
     {"data": {"name": "aT"}, "transform": [{"filter": "datum.g === 'h'"}], "mark": {"type": "text", "fontSize": 19, "fontWeight": "bold", "align": "left", "baseline": "alphabetic"}, "encoding": {"text": {"field": "t"}}},
     {"data": {"name": "aT"}, "transform": [{"filter": "datum.g === 's'"}], "mark": {"type": "text", "fontSize": 12, "fontWeight": "bold", "align": "left", "baseline": "alphabetic"}, "encoding": {"text": {"field": "t"}}},
     {"data": {"name": "aT"}, "transform": [{"filter": "datum.g === 'L'"}], "mark": {"type": "text", "fontSize": 44, "align": "left", "baseline": "alphabetic", "clip": false}, "encoding": {"text": {"field": "t"}}}
    ]
   },
   {"width": 450, "height": 365,
    "data": {"name": "b"},
    "encoding": {
     "x": {"field": "x", "type": "quantitative", "scale": {"domain": [520, 545], "reverse": true, "nice": false, "zero": false}, "axis": {"title": "Binding energy / eV", "values": [520,522.5,525,527.5,530,532.5,535,537.5,540,542.5,545], "labelExpr": "datum.value % 5 === 0 ? datum.label : ''"}},
     "y": {"field": "y", "type": "quantitative", "scale": {"domain": [0, 365], "nice": false, "zero": false}, "axis": {"title": "Intensity"}}
    },
    "layer": [
     {"transform": [{"filter": "datum.k === 'raw'"}], "mark": {"type": "line", "color": "#111", "strokeWidth": 1.4}},
     {"transform": [{"filter": "datum.k === 'env'"}], "mark": {"type": "line", "color": "#111", "strokeWidth": 3.2, "interpolate": "monotone"}},
     {"transform": [{"filter": "datum.k !== 'env' && datum.k !== 'bg' && datum.k !== 'raw'"}], "mark": {"type": "line", "strokeWidth": 1.3, "interpolate": "monotone"},
      "encoding": {"color": {"field": "k", "type": "nominal", "legend": null, "scale": {"domain": ["530.5","531","532","533","529.1"], "range": ["#0000FF","#000080","#FF00FF","#008000","#FF0000"]}}}},
     {"transform": [{"filter": "datum.k === 'bg'"}], "mark": {"type": "line", "color": "#800000", "strokeWidth": 1.3}},
     {"transform": [{"filter": "datum.k === 'env'"}], "mark": {"type": "line", "color": "#808000", "strokeWidth": 2, "interpolate": "monotone"}},
     {"data": {"name": "bL"}, "mark": {"type": "rule", "color": "#555", "strokeWidth": 0.8}, "encoding": {"x2": {"field": "x2"}, "y2": {"field": "y2"}}},
     {"data": {"name": "bT"}, "transform": [{"filter": "datum.g === 'n'"}], "mark": {"type": "text", "fontSize": 20, "fontWeight": "bold", "align": "center", "baseline": "middle"}, "encoding": {"text": {"field": "t"}}},
     {"data": {"name": "bT"}, "transform": [{"filter": "datum.g === 'h'"}], "mark": {"type": "text", "fontSize": 19, "fontWeight": "bold", "align": "left", "baseline": "alphabetic"}, "encoding": {"text": {"field": "t"}}},
     {"data": {"name": "bT"}, "transform": [{"filter": "datum.g === 'L'"}], "mark": {"type": "text", "fontSize": 44, "align": "left", "baseline": "alphabetic", "clip": false}, "encoding": {"text": {"field": "t"}}}
    ]
   }
  ]
 },
 {"spacing": 16, "resolve": {"scale": {"color": "independent"}},
  "vconcat": [
   {"title": {"text": "CoO(OH)", "fontSize": 45, "anchor": "middle", "dx": 12, "offset": -27, "baseline": "alphabetic"},
    "spacing": 95, "resolve": {"scale": {"color": "independent"}},
    "hconcat": [
     {"width": 450, "height": 364,
      "data": {"name": "c"},
      "encoding": {
       "x": {"field": "x", "type": "quantitative", "scale": {"domain": [770, 820], "reverse": true, "nice": false, "zero": false}, "axis": {"title": "Binding energy / eV", "values": [770,775,780,785,790,795,800,805,810,815,820]}},
       "y": {"field": "y", "type": "quantitative", "scale": {"domain": [0, 364], "nice": false, "zero": false}, "axis": {"title": "Intensity"}}
      },
      "layer": [
       {"transform": [{"filter": "datum.k === 'env'"}], "mark": {"type": "line", "color": "#111", "strokeWidth": 3.4, "interpolate": "monotone"}},
       {"transform": [{"filter": "datum.k !== 'env' && datum.k !== 'bg' && datum.k !== 'raw'"}], "mark": {"type": "line", "strokeWidth": 1.3, "interpolate": "monotone"},
        "encoding": {"color": {"field": "k", "type": "nominal", "legend": null, "scale": {"domain": ["779.4","780.7","783.3","789","794.5","796.3","797.5","804.3"], "range": ["#FF0000","#800080","#FF00FF","#008000","#0000FF","#800000","#000080","#8000FF"]}}}},
       {"transform": [{"filter": "datum.k === 'bg'"}], "mark": {"type": "line", "color": "#800000", "strokeWidth": 1.5}},
       {"transform": [{"filter": "datum.k === 'env'"}], "mark": {"type": "line", "color": "#808000", "strokeWidth": 2, "interpolate": "monotone"}},
       {"data": {"name": "cL"}, "mark": {"type": "rule", "color": "#555", "strokeWidth": 0.8}, "encoding": {"x2": {"field": "x2"}, "y2": {"field": "y2"}}},
       {"data": {"name": "cT"}, "transform": [{"filter": "datum.g === 'n'"}], "mark": {"type": "text", "fontSize": 20, "fontWeight": "bold", "align": "center", "baseline": "middle"}, "encoding": {"text": {"field": "t"}}},
       {"data": {"name": "cT"}, "transform": [{"filter": "datum.g === 'L'"}], "mark": {"type": "text", "fontSize": 44, "align": "left", "baseline": "alphabetic", "clip": false}, "encoding": {"text": {"field": "t"}}}
      ]
     },
     {"width": 450, "height": 364,
      "data": {"name": "d"},
      "encoding": {
       "x": {"field": "x", "type": "quantitative", "scale": {"domain": [520, 545], "reverse": true, "nice": false, "zero": false}, "axis": {"title": "Binding energy / eV", "values": [520,522.5,525,527.5,530,532.5,535,537.5,540,542.5,545], "labelExpr": "datum.value % 5 === 0 ? datum.label : ''"}},
       "y": {"field": "y", "type": "quantitative", "scale": {"domain": [0, 364], "nice": false, "zero": false}, "axis": {"title": "Intensity"}}
      },
      "layer": [
       {"transform": [{"filter": "datum.k === 'raw'"}], "mark": {"type": "line", "color": "#111", "strokeWidth": 1.4}},
       {"transform": [{"filter": "datum.k === 'env'"}], "mark": {"type": "line", "color": "#111", "strokeWidth": 3, "interpolate": "monotone"}},
       {"transform": [{"filter": "datum.k !== 'env' && datum.k !== 'bg' && datum.k !== 'raw'"}], "mark": {"type": "line", "strokeWidth": 1.3, "interpolate": "monotone"},
        "encoding": {"color": {"field": "k", "type": "nominal", "legend": null, "scale": {"domain": ["529.1","529.8","530.7","531.6","532.9"], "range": ["#FF0000","#0000FF","#000080","#FF00FF","#008000"]}}}},
       {"transform": [{"filter": "datum.k === 'bg'"}], "mark": {"type": "line", "color": "#800000", "strokeWidth": 1.3}},
       {"transform": [{"filter": "datum.k === 'env'"}], "mark": {"type": "line", "color": "#8000FF", "strokeWidth": 2, "interpolate": "monotone"}},
       {"data": {"name": "dL"}, "mark": {"type": "rule", "color": "#555", "strokeWidth": 0.8}, "encoding": {"x2": {"field": "x2"}, "y2": {"field": "y2"}}},
       {"data": {"name": "dT"}, "transform": [{"filter": "datum.g === 'n'"}], "mark": {"type": "text", "fontSize": 20, "fontWeight": "bold", "align": "center", "baseline": "middle"}, "encoding": {"text": {"field": "t"}}},
       {"data": {"name": "dT"}, "transform": [{"filter": "datum.g === 'L'"}], "mark": {"type": "text", "fontSize": 44, "align": "left", "baseline": "alphabetic", "clip": false}, "encoding": {"text": {"field": "t"}}}
      ]
     }
    ]
   },
   {"title": {"text": "Co₃O₄", "fontSize": 45, "anchor": "middle", "dx": 12, "offset": -12, "baseline": "alphabetic"},
    "spacing": 95, "resolve": {"scale": {"color": "independent"}},
    "hconcat": [
     {"width": 450, "height": 364,
      "data": {"name": "e"},
      "encoding": {
       "x": {"field": "x", "type": "quantitative", "scale": {"domain": [770, 820], "reverse": true, "nice": false, "zero": false}, "axis": {"title": "Binding energy / eV", "values": [770,775,780,785,790,795,800,805,810,815,820]}},
       "y": {"field": "y", "type": "quantitative", "scale": {"domain": [0, 364], "nice": false, "zero": false}, "axis": {"title": "Intensity"}}
      },
      "layer": [
       {"transform": [{"filter": "datum.k === 'env'"}], "mark": {"type": "line", "color": "#111", "strokeWidth": 3.4, "interpolate": "monotone"}},
       {"transform": [{"filter": "datum.k !== 'env' && datum.k !== 'bg' && datum.k !== 'raw'"}], "mark": {"type": "line", "strokeWidth": 1.3, "interpolate": "monotone"},
        "encoding": {"color": {"field": "k", "type": "nominal", "legend": null, "scale": {"domain": ["779.1","780.6","784.6","788.9","794.3","795.8","802.3","804.6"], "range": ["#FF0000","#FF00FF","#000080","#8000FF","#0000FF","#008000","#800080","#800000"]}}}},
       {"transform": [{"filter": "datum.k === 'bg'"}], "mark": {"type": "line", "color": "#800000", "strokeWidth": 1.5}},
       {"transform": [{"filter": "datum.k === 'env'"}], "mark": {"type": "line", "color": "#808000", "strokeWidth": 2, "interpolate": "monotone"}},
       {"data": {"name": "eL"}, "mark": {"type": "rule", "color": "#555", "strokeWidth": 0.8}, "encoding": {"x2": {"field": "x2"}, "y2": {"field": "y2"}}},
       {"data": {"name": "eT"}, "transform": [{"filter": "datum.g === 'n'"}], "mark": {"type": "text", "fontSize": 20, "fontWeight": "bold", "align": "center", "baseline": "middle"}, "encoding": {"text": {"field": "t"}}},
       {"data": {"name": "eT"}, "transform": [{"filter": "datum.g === 'L'"}], "mark": {"type": "text", "fontSize": 44, "align": "left", "baseline": "alphabetic", "clip": false}, "encoding": {"text": {"field": "t"}}}
      ]
     },
     {"width": 450, "height": 364,
      "data": {"name": "f"},
      "encoding": {
       "x": {"field": "x", "type": "quantitative", "scale": {"domain": [520, 545], "reverse": true, "nice": false, "zero": false}, "axis": {"title": "Binding energy / eV", "values": [520,522.5,525,527.5,530,532.5,535,537.5,540,542.5,545], "labelExpr": "datum.value % 5 === 0 ? datum.label : ''"}},
       "y": {"field": "y", "type": "quantitative", "scale": {"domain": [0, 364], "nice": false, "zero": false}, "axis": {"title": "Intensity"}}
      },
      "layer": [
       {"transform": [{"filter": "datum.k === 'raw'"}], "mark": {"type": "line", "color": "#111", "strokeWidth": 1.4}},
       {"transform": [{"filter": "datum.k === 'env'"}], "mark": {"type": "line", "color": "#111", "strokeWidth": 3, "interpolate": "monotone"}},
       {"transform": [{"filter": "datum.k !== 'env' && datum.k !== 'bg' && datum.k !== 'raw'"}], "mark": {"type": "line", "strokeWidth": 1.3, "interpolate": "monotone"},
        "encoding": {"color": {"field": "k", "type": "nominal", "legend": null, "scale": {"domain": ["529.5","530.8","531.5","532.5","533"], "range": ["#FF0000","#0000FF","#FF00FF","#008000","#000080"]}}}},
       {"transform": [{"filter": "datum.k === 'bg'"}], "mark": {"type": "line", "color": "#800000", "strokeWidth": 1.3}},
       {"transform": [{"filter": "datum.k === 'env'"}], "mark": {"type": "line", "color": "#8000FF", "strokeWidth": 2, "interpolate": "monotone"}},
       {"data": {"name": "fL"}, "mark": {"type": "rule", "color": "#555", "strokeWidth": 0.8}, "encoding": {"x2": {"field": "x2"}, "y2": {"field": "y2"}}},
       {"data": {"name": "fT"}, "transform": [{"filter": "datum.g === 'n'"}], "mark": {"type": "text", "fontSize": 20, "fontWeight": "bold", "align": "center", "baseline": "middle"}, "encoding": {"text": {"field": "t"}}},
       {"data": {"name": "fT"}, "transform": [{"filter": "datum.g === 'L'"}], "mark": {"type": "text", "fontSize": 44, "align": "left", "baseline": "alphabetic", "clip": false}, "encoding": {"text": {"field": "t"}}}
      ]
     }
    ]
   }
  ]
 }
]
}
